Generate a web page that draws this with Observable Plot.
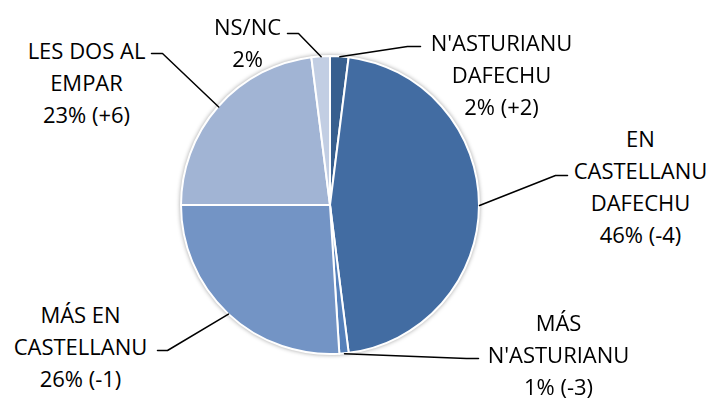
<!DOCTYPE html>
<html>
<head>
<meta charset="utf-8">
<script src="https://cdn.jsdelivr.net/npm/d3@7"></script>
<script src="https://cdn.jsdelivr.net/npm/@observablehq/plot@0.6"></script>
<style>
  html, body { margin: 0; padding: 0; background: #fff; }
  #chart svg { display: block; }
</style>
</head>
<body>
<div id="chart"></div>
<script>
// ---- data ----
const categories = ["N'ASTURIANU\nDAFECHU", "EN\nCASTELLANU\nDAFECHU", "MÁS\nN'ASTURIANU", "MÁS EN\nCASTELLANU", "LES DOS AL\nEMPAR", "NS/NC"];
const values = [2, 46, 1, 26, 23, 2];
const changes = ["(+2)", "(-4)", "(-3)", "(-1)", "(+6)", ""];

// ---- layout / style ----
const W = 712, H = 401;
const cx = 330, cy = 205, R = 149;
const colors = ["#375f8f", "#426ca2", "#5580ba", "#7394c5", "#a1b4d4", "#c2cee3"];
// label anchor (center x, block middle y) and leader elbow points
const labelPos = [
  {x: 501, y: 72,  elbow: [[407, 46], [420, 46]]},
  {x: 640, y: 184, elbow: [[555, 175], [567, 175]]},
  {x: 558, y: 352, elbow: [[466, 358], [478, 358]]},
  {x: 80,  y: 344, elbow: [[167, 350], [157, 350]]},
  {x: 86,  y: 80,  elbow: [[162, 53], [151, 53]]},
  {x: 247, y: 40,  elbow: [[298, 33], [287, 33]]}
];

const rows = categories.map((c, i) => ({name: c, value: values[i], change: changes[i], i}));
const pie = d3.pie().value(d => d.value).sort(null)(rows);
const arcs = pie.map(p => ({...p, mid: (p.startAngle + p.endAngle) / 2}));

const labels = rows.map((d, i) => ({
  text: d.name + "\n" + d.value + "%" + (d.change ? " " + d.change : ""),
  x: labelPos[i].x, y: labelPos[i].y
}));

const leaders = [];
arcs.forEach((a, i) => {
  const sx = cx + R * Math.sin(a.mid), sy = cy - R * Math.cos(a.mid);
  const pts = [[sx, sy], ...labelPos[i].elbow];
  pts.forEach((p, k) => leaders.push({x: p[0], y: p[1], z: i, k}));
});

function pieMark(index, scales) {
  const g = d3.create("svg:g").attr("style", "filter: drop-shadow(0px 0px 2px rgba(0,0,0,0.35))");
  const x0 = scales.x(cx), y0 = scales.y(cy);
  const r = scales.x(cx + R) - x0;
  const arc = d3.arc().innerRadius(0).outerRadius(r);
  g.selectAll("path").data(arcs).join("path")
    .attr("transform", `translate(${x0},${y0})`)
    .attr("d", arc)
    .attr("fill", d => colors[d.data.i])
    .attr("stroke", "#fff")
    .attr("stroke-width", 2)
    .attr("stroke-linejoin", "round");
  return g.node();
}

const chart = Plot.plot({
  width: W, height: H,
  margin: 0,
  x: {domain: [0, W], range: [0, W], axis: null},
  y: {domain: [0, H], range: [0, H], axis: null},
  style: {fontFamily: "'Open Sans', Lato, sans-serif", background: "#fff"},
  marks: [
    pieMark,
    Plot.line(leaders, {x: "x", y: "y", z: "z", stroke: "#000", strokeWidth: 1.5, curve: "linear"}),
    Plot.text(labels, {x: "x", y: "y", text: "text", fontSize: 22, lineHeight: 1.46, lineAnchor: "middle", textAnchor: "middle", fill: "#000"})
  ]
});
document.getElementById("chart").appendChild(chart);
</script>
</body>
</html>
